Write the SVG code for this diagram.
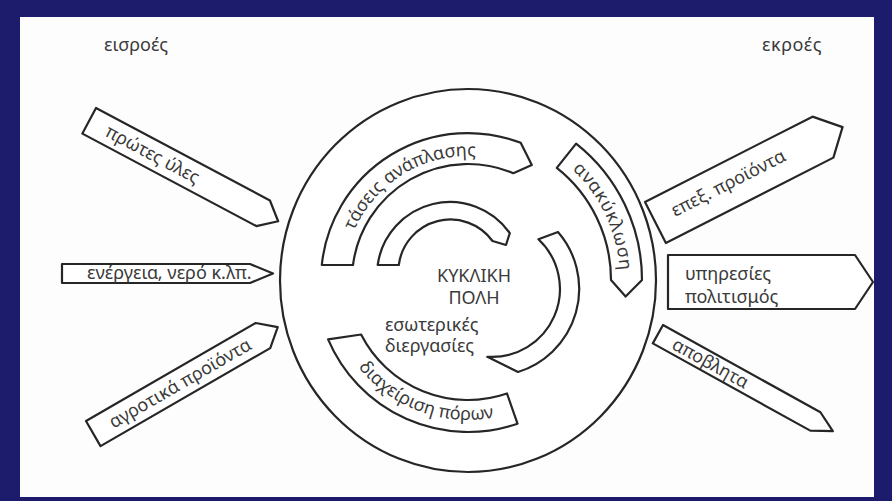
<svg xmlns="http://www.w3.org/2000/svg" width="892" height="501" viewBox="0 0 892 501">
<style>
.o{fill:#fff;stroke:#262626;stroke-width:2.2;stroke-linejoin:round}
.t{font-family:"Noto Sans","DejaVu Sans",sans-serif;fill:#3a3a3a;font-size:18px}
</style>
<defs>
<path id="pTaseis" d="M 344.5,269.2 A 124 124 0 0 1 514.5,165"/>
<path id="pAnak" d="M 555.2,155.5 A 152 152 0 0 1 619.4,293.2"/>
<path id="pDiax" d="M 346.8,350 A 140 140 0 0 0 514,412.2"/>
</defs>
<rect x="0" y="0" width="892" height="501" fill="#1c1b6c"/>
<rect x="20" y="17" width="854" height="480" fill="#fdfdfd"/>

<g id="titles">
<text class="t" x="136" y="51" text-anchor="middle" font-size="22">εισροές</text>
<text class="t" x="792" y="51" text-anchor="middle" font-size="22" letter-spacing="0.5">εκροές</text>
</g>

<g id="city">
<ellipse class="o" cx="468" cy="280.5" rx="188" ry="191.5" fill="none"/>
<text class="t" x="474" y="282" text-anchor="middle" font-size="19.5">ΚΥΚΛΙΚΗ</text>
<text class="t" x="474" y="304" text-anchor="middle" font-size="19.5">ΠΟΛΗ</text>
</g>

<g id="taseis">
<path class="o" d="M 321.8,265 A 147 147 0 0 1 520.7,142.8 L 531.8,165 L 513.3,173.2 A 116 116 0 0 0 353,265 Z"/>
<text class="t"><textPath href="#pTaseis" startOffset="50%" text-anchor="middle">τάσεις ανάπλασης</textPath></text>
</g>

<g id="inner-c">
<path class="o" d="M 377.7,265 A 73 73 0 0 1 509.8,233.1 L 506,245 L 492.5,241 A 52 52 0 0 0 398.8,265 Z"/>
</g>

<g id="inner-arc">
<path class="o" d="M 558,232 A 87 87 0 0 1 518,372 L 487.3,356.8 A 68 68 0 0 0 538.4,239.3 Z"/>
</g>

<g id="esoterikes">
<text class="t" x="385" y="331" font-size="19">εσωτερικές</text>
<text class="t" x="385" y="352" font-size="19">διεργασίες</text>
</g>

<g id="diaxeirisi">
<path class="o" d="M 328.1,339.4 A 152 152 0 0 0 517.5,423.7 L 507,393.5 A 120 120 0 0 1 361.1,334.5 Z"/>
<text class="t"><textPath href="#pDiax" startOffset="50%" text-anchor="middle">διαχείριση πόρων</textPath></text>
</g>

<g id="anakyklosi">
<path class="o" d="M 576.1,143.6 A 174 174 0 0 1 642,280 L 625.6,296.6 L 611,280 A 143 143 0 0 0 556.8,167.9 Z"/>
<text class="t" font-size="20" letter-spacing="0.8"><textPath href="#pAnak" startOffset="50%" text-anchor="middle">ανακύκλωση</textPath></text>
</g>

<g id="protes-yles" transform="translate(96,108) rotate(28)">
<polygon class="o" points="0,0 197,0 214,14.5 197,29 0,29"/>
<text class="t" x="20" y="20.5" font-size="18.5">πρώτες ύλες</text>
</g>

<g id="energeia">
<polygon class="o" stroke-width="2.6" points="62,264 250,264 273,273.5 250,283 62,283"/>
<text class="t" x="87" y="278.5" font-size="16">ενέργεια, νερό κ.λπ.</text>
</g>

<g id="agrotika" transform="translate(86,421) rotate(-30)">
<polygon class="o" points="0,0 196,0 213,14.5 196,29 0,29"/>
<text class="t" x="20" y="20.5" font-size="18.5">αγροτικά προϊόντα</text>
</g>

<g id="epex" transform="translate(645,202) rotate(-27)">
<polygon class="o" points="0,0 188,0 210,23 188,46 0,46"/>
<text class="t" x="20" y="27" font-size="19">επεξ. προϊόντα</text>
</g>

<g id="ypiresies">
<polygon class="o" stroke-width="2.6" points="668,255 855,255 873,282 855,309 668,309"/>
<text class="t" x="685" y="280" font-size="18.5">υπηρεσίες</text>
<text class="t" x="685" y="303" font-size="18.5">πολιτισμός</text>
</g>

<g id="apovlita" transform="translate(663,325) rotate(29)">
<polygon class="o" points="0,0 180,0 200,10.5 180,21 0,21"/>
<text class="t" x="18" y="16.5" font-size="19">αποβλητα</text>
</g>

<g id="connectors"/>
</svg>
